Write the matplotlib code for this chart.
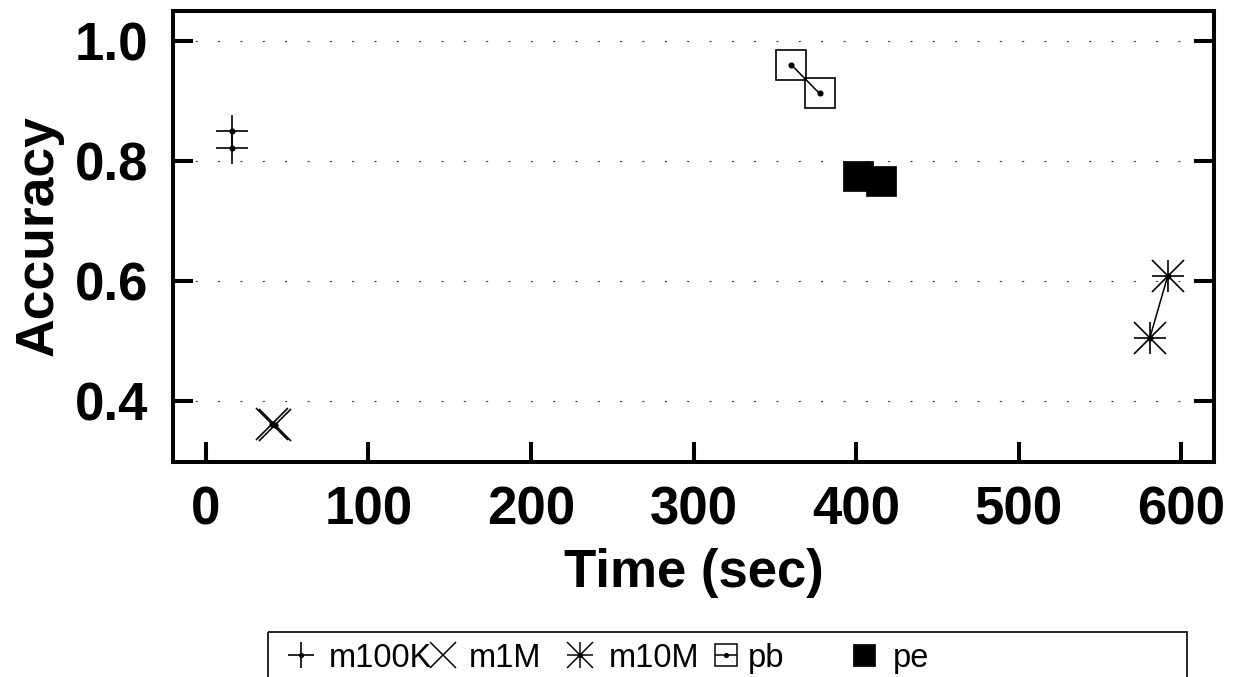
import matplotlib
matplotlib.use("Agg")
import matplotlib.pyplot as plt
from matplotlib.patches import Rectangle

# ---- data ----
series_names = ["m100K", "m1M", "m10M", "pb", "pe"]
m100k_x = [16.0, 16.5]
m100k_y = [0.850, 0.821]
m1m_x = [41.0, 42.5]
m1m_y = [0.362, 0.360]
m10m_x = [580.5, 591.5]
m10m_y = [0.505, 0.608]
pb_x = [360.0, 377.5]
pb_y = [0.960, 0.912]
pe_x = [401.0, 415.5]
pe_y = [0.774, 0.766]

x_ticks = [0, 100, 200, 300, 400, 500, 600]
y_ticks = [0.4, 0.6, 0.8, 1.0]
y_tick_labels = ["0.4", "0.6", "0.8", "1.0"]

plt.rcParams['font.family'] = ['Liberation Sans', 'DejaVu Sans']

W, H = 1237, 677
fig = plt.figure(figsize=(W / 100, H / 100), dpi=100)
ax = fig.add_axes([173 / W, 1 - 461.5 / H, (1214 - 173) / W, (461.5 - 10.5) / H])
ax.set_xlim(-20, 620)
ax.set_ylim(0.3, 1.05)

MS = 23      # marker size (pt)
MEW = 1.2
LW = 1.1
DOT = 3.4
K = 'black'

# m100K: plus
ax.plot(m100k_x, m100k_y, color=K, lw=LW, marker='+', ms=MS, mew=MEW, zorder=3)
ax.plot(m100k_x, m100k_y, ls='none', marker='o', ms=DOT, color=K, zorder=4)
# m1M: cross
ax.plot(m1m_x, m1m_y, color=K, lw=LW, marker='x', ms=MS, mew=MEW, zorder=3)
ax.plot(m1m_x, m1m_y, ls='none', marker='o', ms=DOT, color=K, zorder=4)
# m10M: asterisk (plus + cross)
ax.plot(m10m_x, m10m_y, color=K, lw=LW, marker='+', ms=MS, mew=MEW, zorder=3)
ax.plot(m10m_x, m10m_y, ls='none', marker='x', ms=MS, mew=MEW, color=K, zorder=3)
ax.plot(m10m_x, m10m_y, ls='none', marker='o', ms=DOT, color=K, zorder=4)
# pb: open square
ax.plot(pb_x, pb_y, color=K, lw=LW, marker='s', ms=MS * 0.97, mew=MEW, mfc='none', mec=K, zorder=3)
ax.plot(pb_x, pb_y, ls='none', marker='o', ms=DOT, color=K, zorder=4)
# pe: filled square
ax.plot(pe_x, pe_y, ls='none', marker='s', ms=MS * 0.97, mew=0.5, mfc=K, mec=K, zorder=3)

# axes styling
for s in ax.spines.values():
    s.set_linewidth(2.9)
ax.set_xticks(x_ticks)
ax.set_yticks(y_ticks)
ax.set_yticklabels(y_tick_labels)
ax.tick_params(axis='both', direction='in', length=14.4, width=2.9, labelsize=38)
ax.tick_params(axis='x', pad=17)
ax.tick_params(axis='y', pad=18, right=True)
for lab in ax.get_xticklabels() + ax.get_yticklabels():
    lab.set_fontweight('bold')

ax.yaxis.grid(True, color='#333333', lw=0.8, dashes=(1.8, 18.3))
ax.set_axisbelow(True)

ax.set_xlabel("Time (sec)", fontsize=38, fontweight='bold', va='baseline')
ax.xaxis.set_label_coords(0.5, -(587 - 461.5) / 451)
ax.set_ylabel("Accuracy", fontsize=38.5, fontweight='bold', va='center', ha='center')
ax.yaxis.set_label_coords((38.5 - 173) / 1041, 0.5)

# ---- legend (gnuplot-style horizontal key) ----
lax = fig.add_axes([0, 0, 1, 1], zorder=5)
lax.set_xlim(0, W)
lax.set_ylim(H, 0)
lax.axis('off')
lax.add_patch(Rectangle((268, 632), 1187 - 268, 80, fill=False, ec=K, lw=1.2))
ky = 655
kx = [301, 443, 580, 726, 864]
tx = [329, 469, 609, 748, 893]
LMS = 18.5
lax.plot([kx[0]], [ky], marker='+', ms=LMS, mew=MEW, color=K)
lax.plot([kx[0]], [ky], marker='o', ms=DOT * 0.8, color=K)
lax.plot([kx[1]], [ky], marker='x', ms=LMS, mew=MEW * 0.9, color=K)
lax.plot([kx[2]], [ky], marker='+', ms=LMS, mew=MEW * 0.9, color=K)
lax.plot([kx[2]], [ky], marker='x', ms=LMS, mew=MEW * 0.9, color=K)
lax.plot([kx[2]], [ky], marker='o', ms=DOT * 0.8, color=K)
lax.plot([kx[3] - 10, kx[3] + 10], [ky, ky], color=K, lw=LW)
lax.plot([kx[3]], [ky], marker='s', ms=15.5, mew=MEW * 0.9, mfc='none', mec=K)
lax.plot([kx[3]], [ky], marker='o', ms=DOT * 0.8, color=K)
lax.plot([kx[4]], [ky], marker='s', ms=16.5, mew=0.5, mfc=K, mec=K)
for t, name in zip(tx, series_names):
    lax.text(t, 667, name, fontsize=23.5, va='baseline', ha='left')

fig.savefig("out.png", dpi=100)
